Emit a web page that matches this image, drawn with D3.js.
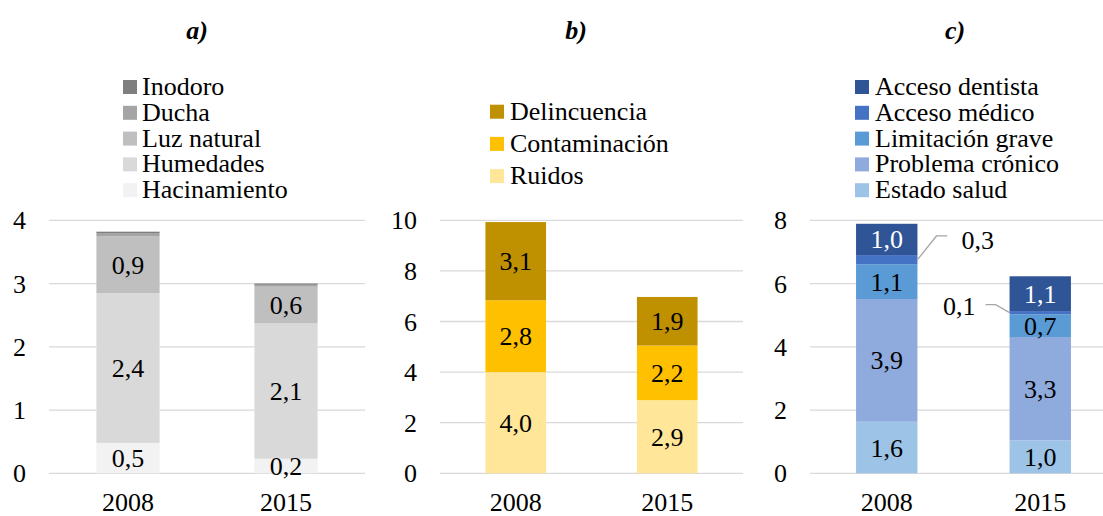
<!DOCTYPE html>
<html>
<head>
<meta charset="utf-8">
<script src="https://cdn.jsdelivr.net/npm/d3@7/dist/d3.min.js"></script>
<style>
  html, body { margin: 0; padding: 0; background: #fff; }
</style>
</head>
<body>
<svg id="chart" width="1103" height="516"></svg>
<script>
// ---- Data ----
const years = ["2008", "2015"];

// Panel a) (stack order bottom -> top)
const seriesA = ["Hacinamiento", "Humedades", "Luz natural", "Ducha", "Inodoro"];
const hacinamiento = [0.48, 0.23];
const humedades = [2.37, 2.14];
const luzNatural = [0.90, 0.58];
const ducha = [0.04, 0.03];
const inodoro = [0.03, 0.02];
const ticksA = [0, 1, 2, 3, 4];

// Panel b)
const seriesB = ["Ruidos", "Contaminación", "Delincuencia"];
const ruidos = [4.00, 2.89];
const contaminacion = [2.84, 2.16];
const delincuencia = [3.09, 1.92];
const ticksB = [0, 2, 4, 6, 8, 10];

// Panel c)
const seriesC = ["Estado salud", "Problema crónico", "Limitación grave", "Acceso médico", "Acceso dentista"];
const estadoSalud = [1.63, 1.04];
const problemaCronico = [3.88, 3.27];
const limitacionGrave = [1.10, 0.72];
const accesoMedico = [0.29, 0.10];
const accesoDentista = [0.99, 1.10];
const ticksC = [0, 2, 4, 6, 8];

const titles = ["a)", "b)", "c)"];

// ---- Styling / layout ----
const svg = d3.select("#chart");
const FONT = "Liberation Serif";
const FS = 26;
const fmt = v => d3.format(".1f")(v).replace(".", ",");

const panels = [
  {
    title: titles[0], titleX: 197,
    series: seriesA, values: [hacinamiento, humedades, luzNatural, ducha, inodoro],
    colors: ["#f2f2f2", "#d9d9d9", "#bfbfbf", "#a5a5a5", "#7f7f7f"],
    labelMode: ["in", "in", "in", "none", "none"],
    textColor: ["#000", "#000", "#000", "#000", "#000"],
    domain: [0, 4], ticks: ticksA,
    xRange: [49, 365], gridEnd: 365,
    legend: { mx: 123, tx: 142, y0: 87, dy: 25.8 }
  },
  {
    title: titles[1], titleX: 576,
    series: seriesB, values: [ruidos, contaminacion, delincuencia],
    colors: ["#ffe699", "#ffc000", "#bf9000"],
    labelMode: ["in", "in", "in"],
    textColor: ["#000", "#000", "#000"],
    domain: [0, 10], ticks: ticksB,
    xRange: [440, 743], gridEnd: 743,
    legend: { mx: 490, tx: 510, y0: 111.7, dy: 32.2 }
  },
  {
    title: titles[2], titleX: 955,
    series: seriesC, values: [estadoSalud, problemaCronico, limitacionGrave, accesoMedico, accesoDentista],
    colors: ["#9dc3e6", "#8faadc", "#5b9bd5", "#4472c4", "#2f5597"],
    labelMode: ["in", "in", "in", "callout", "in"],
    textColor: ["#000", "#000", "#000", "#000", "#fff"],
    domain: [0, 8], ticks: ticksC,
    xRange: [810, 1117], gridEnd: 1103,
    legend: { mx: 855, tx: 875, y0: 87, dy: 25.8 }
  }
];

function txt(sel) {
  return sel.style("font-family", FONT).attr("font-size", FS);
}

panels.forEach(p => {
  const g = svg.append("g");
  const y = d3.scaleLinear().domain(p.domain).range([473.3, 220.3]);
  const x = d3.scaleBand().domain(years).range(p.xRange).paddingInner(0.6).paddingOuter(0.3);

  // Title
  txt(g.append("text")).attr("x", p.titleX).attr("y", 39)
    .attr("text-anchor", "middle")
    .attr("font-weight", "bold").attr("font-style", "italic")
    .text(p.title);

  // Gridlines
  g.selectAll("line.grid").data(p.ticks).join("line")
    .attr("x1", p.xRange[0]).attr("x2", p.gridEnd)
    .attr("y1", d => y(d)).attr("y2", d => y(d))
    .attr("stroke", "#d9d9d9").attr("stroke-width", 1.3);

  // Y tick labels
  txt(g.selectAll("text.ytick").data(p.ticks).join("text"))
    .attr("x", p.xRange[0] - 23).attr("y", d => y(d) + 9)
    .attr("text-anchor", "end")
    .text(d => d);

  // X labels
  txt(g.selectAll("text.xlab").data(years).join("text"))
    .attr("x", d => x(d) + x.bandwidth() / 2).attr("y", 511)
    .attr("text-anchor", "middle")
    .text(d => d);

  // Stack
  const rows = years.map((yr, i) => {
    const o = { year: yr };
    p.series.forEach((s, k) => o[s] = p.values[k][i]);
    return o;
  });
  const stacked = d3.stack().keys(p.series)(rows);

  stacked.forEach((layer, k) => {
    g.selectAll(null).data(layer).join("rect")
      .attr("x", d => x(d.data.year))
      .attr("width", x.bandwidth())
      .attr("y", d => y(d[1]))
      .attr("height", d => y(d[0]) - y(d[1]))
      .attr("fill", p.colors[k]);
  });

  stacked.forEach((layer, k) => {
    const mode = p.labelMode[k];
    if (mode === "in") {
      txt(g.selectAll(null).data(layer).join("text"))
        .attr("x", d => x(d.data.year) + x.bandwidth() / 2)
        .attr("y", d => (y(d[0]) + y(d[1])) / 2 + 9)
        .attr("text-anchor", "middle")
        .attr("fill", p.textColor[k])
        .text(d => fmt(d[1] - d[0]));
    } else if (mode === "callout") {
      layer.forEach((d, i) => {
        const ym = (y(d[0]) + y(d[1])) / 2;
        if (i === 0) {
          const ax = x(d.data.year) + x.bandwidth();
          g.append("polyline")
            .attr("points", [[ax, ym], [ax + 19, ym - 23.7], [ax + 30, ym - 23.7]].map(q => q.join(",")).join(" "))
            .attr("fill", "none").attr("stroke", "#a6a6a6").attr("stroke-width", 1.3);
          txt(g.append("text")).attr("x", ax + 44).attr("y", ym - 20 + 9)
            .text(fmt(d[1] - d[0]));
        } else {
          const ax = x(d.data.year);
          g.append("polyline")
            .attr("points", [[ax, ym], [ax - 14, ym - 8], [ax - 24, ym - 8]].map(q => q.join(",")).join(" "))
            .attr("fill", "none").attr("stroke", "#a6a6a6").attr("stroke-width", 1.3);
          txt(g.append("text")).attr("x", ax - 34).attr("y", ym - 7 + 9)
            .attr("text-anchor", "end").text(fmt(d[1] - d[0]));
        }
      });
    }
  });

  // Legend (top -> bottom = reverse stack order)
  const legItems = p.series.map((s, k) => ({ s, c: p.colors[k] })).reverse();
  const L = p.legend;
  legItems.forEach((it, i) => {
    const cy = L.y0 + i * L.dy;
    g.append("rect").attr("x", L.mx).attr("y", cy - 7).attr("width", 14).attr("height", 14).attr("fill", it.c);
    txt(g.append("text")).attr("x", L.tx).attr("y", cy + 8).text(it.s);
  });
});
</script>
</body>
</html>
